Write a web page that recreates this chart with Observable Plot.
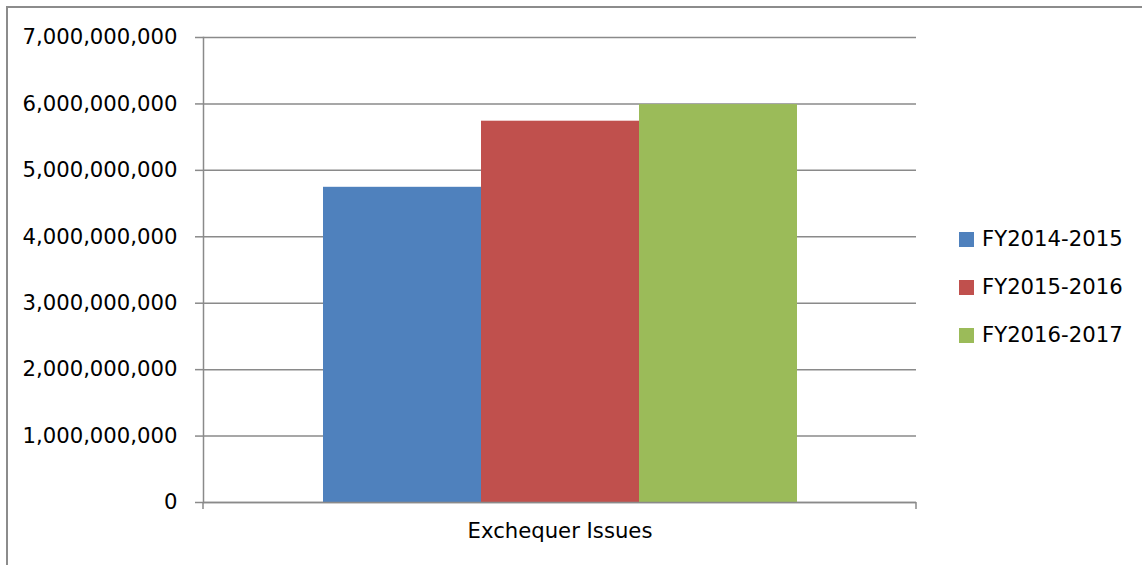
<!DOCTYPE html>
<html>
<head>
<meta charset="utf-8">
<script src="https://cdn.jsdelivr.net/npm/d3@7"></script>
<script src="https://cdn.jsdelivr.net/npm/@observablehq/plot@0.6"></script>
<style>
  html, body { margin: 0; padding: 0; background: #fff; overflow: hidden; }
  #wrap { position: relative; width: 1142px; height: 565px; font-family: "DejaVu Sans", sans-serif; }
  #frame { position: absolute; left: 6px; top: 6px; width: 1300px; height: 700px;
           border-left: 2px solid #8c8c8c; border-top: 2px solid #8c8c8c; box-sizing: border-box; }
  #chart { position: absolute; left: 0; top: 0; }
  #legend { position: absolute; left: 959px; top: 0; font-size: 21.2px; color: #000; }
  .item { position: absolute; white-space: nowrap; }
  .sw { position: absolute; width: 15px; height: 15px; left: 0; }
  .lab { position: absolute; left: 23px; line-height: 24px; }
</style>
</head>
<body>
<div id="wrap">
  <div id="frame"></div>
  <div id="chart"></div>
  <div id="legend"></div>
</div>
<script>
const category = "Exchequer Issues";
const seriesNames = ["FY2014-2015", "FY2015-2016", "FY2016-2017"];
const seriesValues = [4745000000, 5740000000, 5990000000];
const seriesColors = ["#4f81bd", "#c0504d", "#9bbb59"];
const yTicks = [0, 1e9, 2e9, 3e9, 4e9, 5e9, 6e9, 7e9];

const data = seriesNames.map((s, i) => ({series: s, value: seriesValues[i], category}));
const gridColor = "#8a8a8a";
const fs = 21.2;

const plot = Plot.plot({
  width: 1142,
  height: 565,
  marginLeft: 203,
  marginRight: 226,
  marginTop: 37,
  marginBottom: 63,
  style: {fontFamily: "DejaVu Sans, sans-serif", background: "transparent", overflow: "visible"},
  x: {domain: seriesNames, paddingInner: 0, paddingOuter: 0.75, axis: null},
  y: {domain: [0, 7e9], axis: null},
  color: {domain: seriesNames, range: seriesColors},
  marks: [
    Plot.gridY(yTicks, {stroke: gridColor, strokeOpacity: 1, strokeWidth: 1.5}),
    Plot.axisY(yTicks, {
      tickFormat: d3.format(","), tickSize: 8, tickPadding: 18, label: null,
      fontSize: fs, stroke: gridColor, strokeWidth: 1.5, strokeOpacity: 1, fill: "#000"
    }),
    Plot.barY(data, {x: "series", y: "value", fill: "series"}),
    Plot.frame({anchor: "left", stroke: gridColor, strokeWidth: 1.5}),
    Plot.ruleY([0], {stroke: gridColor, strokeWidth: 1.5}),
    Plot.text([category], {frameAnchor: "bottom", dy: 35, fontSize: fs, fill: "#000", text: d => d})
  ]
});

// category-axis boundary tick marks at the edges of the category band
const xr = plot.scale("x").range;
const y0 = plot.scale("y").apply(0);
d3.select(plot).selectAll("line.cat-tick")
  .data(xr)
  .join("line")
  .attr("x1", d => d).attr("x2", d => d)
  .attr("y1", y0).attr("y2", y0 + 7)
  .attr("stroke", gridColor).attr("stroke-width", 1.5);

document.getElementById("chart").appendChild(plot);

const legend = d3.select("#legend");
seriesNames.forEach((s, i) => {
  const top = 232 + i * 48;
  const item = legend.append("div").attr("class", "item").style("top", top + "px");
  item.append("div").attr("class", "sw").style("background", seriesColors[i]);
  item.append("div").attr("class", "lab").style("top", "-5px").text(s);
});
</script>
</body>
</html>
